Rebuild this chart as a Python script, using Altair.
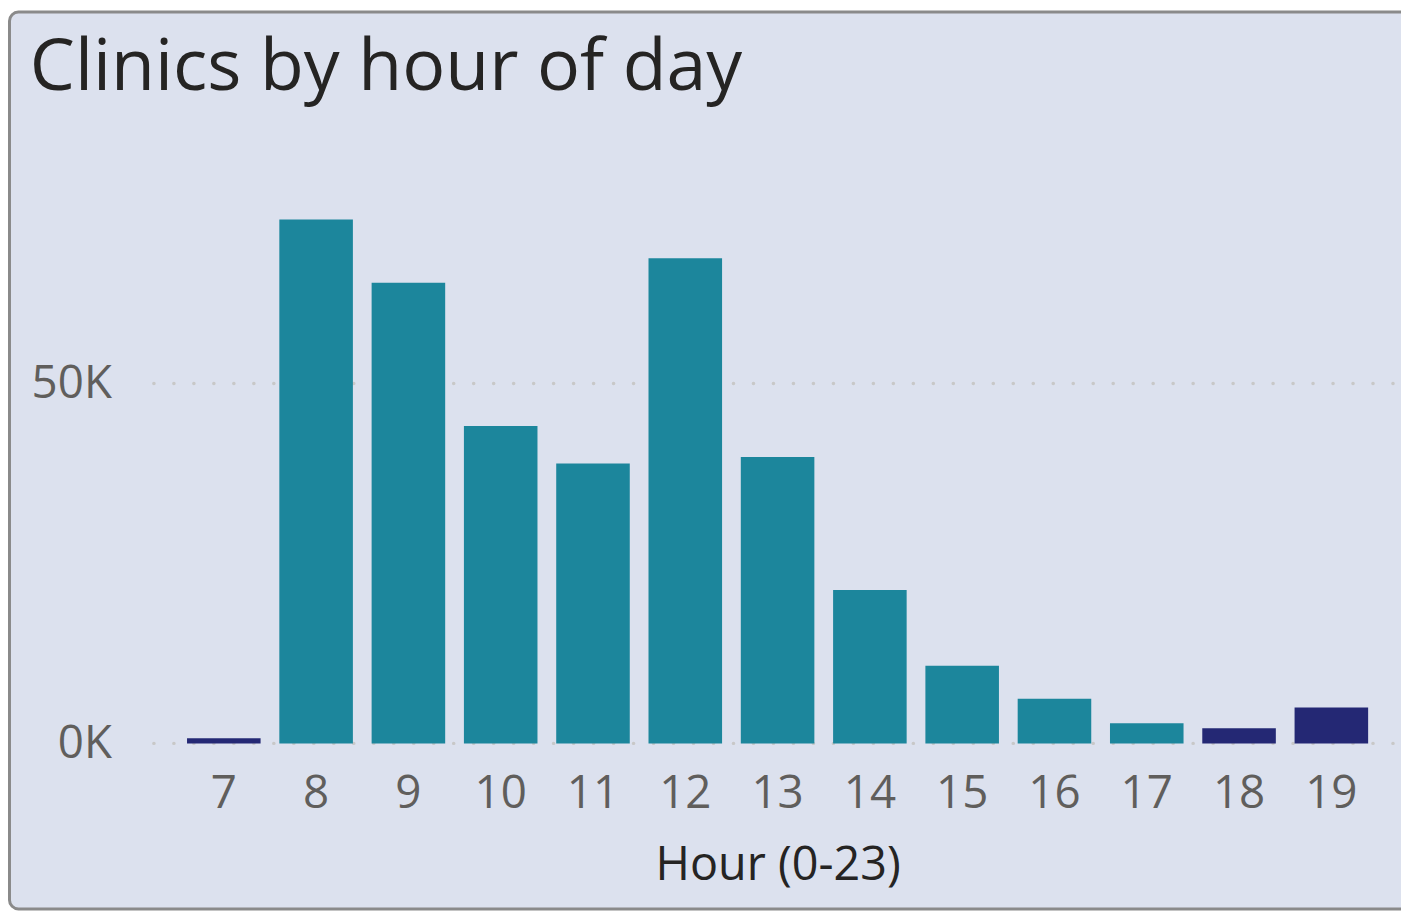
import altair as alt
import pandas as pd

hours = [7, 8, 9, 10, 11, 12, 13, 14, 15, 16, 17, 18, 19]
clinics = [700, 72800, 64000, 44100, 38900, 67400, 39800, 21300, 10800, 6200, 2800, 2100, 5000]
group = ["low", "main", "main", "main", "main", "main", "main", "main", "main", "main", "main", "low", "low"]
y_ticks = [0, 50000]

df = pd.DataFrame({"hour": hours, "clinics": clinics, "group": group})
grid_df = pd.DataFrame({"v": y_ticks})
frame_df = pd.DataFrame({"k": [0]})

FONT = "Open Sans"
PLOT_W = 1251
PLOT_H = 579
PAD_L, PAD_T, PAD_R, PAD_B = 142, 158, 8, 168

frame = alt.Chart(frame_df).mark_rect(
    fill="#dce1ee", stroke="#8a8a8a", strokeWidth=3, cornerRadius=9
).encode(
    x=alt.value(-PAD_L + 1.5),
    x2=alt.value(PLOT_W + PAD_R + 40),
    y=alt.value(-PAD_T + 1.5),
    y2=alt.value(PLOT_H + PAD_B - 1.5),
)

yscale = alt.Scale(domain=[0, 80000], nice=False)
yaxis = alt.Axis(
    values=y_ticks, labelExpr="datum.value / 1000 + 'K'", ticks=False, domain=False,
    labelFont=FONT, labelFontSize=46, labelColor="#605e5c", labelPadding=38,
    grid=False, zindex=1,
)

grid = alt.Chart(grid_df).mark_rule(
    color="#c8c8c8", strokeDash=[0.1, 20], strokeWidth=3.5, strokeCap="round"
).encode(y=alt.Y("v:Q", scale=yscale, axis=yaxis, title=None))

bars = alt.Chart(df).mark_bar().encode(
    x=alt.X(
        "hour:O",
        sort=hours,
        title="Hour (0-23)",
        scale=alt.Scale(paddingInner=0.203, paddingOuter=0.34, align=0.603, round=False),
        axis=alt.Axis(
            labelAngle=0, ticks=False, domain=False, labelFont=FONT, labelFontSize=46,
            labelColor="#605e5c", labelPadding=28, titleFont=FONT, titleFontSize=47,
            titleFontWeight="normal", titleColor="#252423", titlePadding=27, titleX=632,
            zindex=1,
        ),
    ),
    y=alt.Y("clinics:Q", title=None, scale=yscale, axis=yaxis),
    color=alt.Color(
        "group:N",
        scale=alt.Scale(domain=["main", "low"], range=["#1c869c", "#242874"]),
        legend=None,
    ),
)

chart = alt.layer(frame, grid, bars).properties(
    width=PLOT_W,
    height=PLOT_H,
    padding={"left": PAD_L, "top": PAD_T, "right": PAD_R, "bottom": PAD_B},
    autosize=alt.AutoSizeParams(type="none"),
    background="white",
    title=alt.TitleParams(
        "Clinics by hour of day", anchor="start", frame="group", font=FONT, fontSize=72,
        fontWeight="normal", color="#252423", baseline="alphabetic", offset=-152, dx=-120,
    ),
).configure_view(stroke=None)

chart.save("out.html", embed_options={"renderer": "svg", "actions": False})
